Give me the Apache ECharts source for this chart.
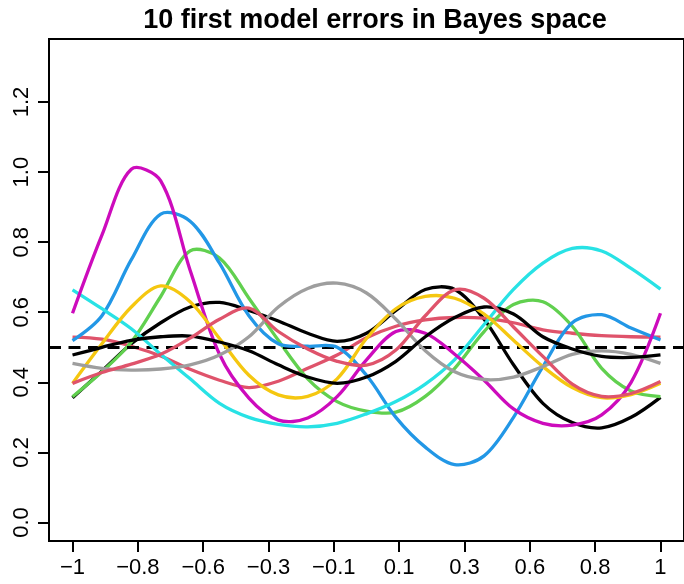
<!DOCTYPE html>
<html lang="en">
<head>
    <meta charset="utf-8">
    <title>Bayes space errors</title>
    <script src="https://cdn.jsdelivr.net/npm/echarts@6/dist/echarts.min.js"></script>
    <style>
        body { margin: 0; background: #fff; }
        #main { width: 684px; height: 584px; }
    </style>
</head>
<body>
    <div id="main"></div>
    <script type="text/javascript">
        // x grid of the evaluated curves
        var xs = [-1, -0.9, -0.8, -0.7, -0.6, -0.5, -0.4, -0.3, -0.2, -0.1, 0,
                  0.1, 0.2, 0.3, 0.4, 0.5, 0.6, 0.7, 0.8, 0.9, 1];

        // 10 model errors
        var err1  = [0.356, 0.432, 0.51, 0.57, 0.615, 0.628, 0.605, 0.575, 0.54, 0.517, 0.54, 0.605, 0.665, 0.665, 0.58, 0.45, 0.34, 0.285, 0.27, 0.30, 0.357];
        var err2  = [0.529, 0.523, 0.503, 0.475, 0.437, 0.406, 0.385, 0.403, 0.44, 0.478, 0.527, 0.56, 0.578, 0.585, 0.583, 0.57, 0.55, 0.54, 0.533, 0.53, 0.529];
        var err3  = [0.359, 0.43, 0.515, 0.645, 0.775, 0.755, 0.64, 0.52, 0.41, 0.345, 0.318, 0.315, 0.36, 0.44, 0.545, 0.622, 0.63, 0.56, 0.44, 0.375, 0.359];
        var err4  = [0.519, 0.59, 0.75, 0.88, 0.86, 0.74, 0.59, 0.51, 0.503, 0.50, 0.42, 0.30, 0.215, 0.165, 0.19, 0.30, 0.445, 0.57, 0.593, 0.555, 0.521];
        var err5  = [0.664, 0.61, 0.553, 0.48, 0.41, 0.34, 0.30, 0.28, 0.273, 0.283, 0.31, 0.345, 0.395, 0.465, 0.565, 0.665, 0.74, 0.782, 0.775, 0.725, 0.666];
        var err6  = [0.597, 0.82, 1.008, 0.975, 0.72, 0.48, 0.355, 0.292, 0.298, 0.359, 0.464, 0.545, 0.54, 0.48, 0.406, 0.324, 0.283, 0.278, 0.307, 0.40, 0.597];
        var err7  = [0.397, 0.51, 0.615, 0.675, 0.63, 0.525, 0.42, 0.364, 0.36, 0.41, 0.525, 0.61, 0.645, 0.64, 0.595, 0.52, 0.445, 0.385, 0.356, 0.365, 0.397];
        var err8  = [0.454, 0.44, 0.435, 0.438, 0.45, 0.478, 0.53, 0.615, 0.668, 0.683, 0.655, 0.58, 0.49, 0.43, 0.408, 0.415, 0.445, 0.48, 0.49, 0.48, 0.454];
        var err9  = [0.478, 0.50, 0.52, 0.53, 0.532, 0.515, 0.49, 0.45, 0.415, 0.397, 0.415, 0.46, 0.53, 0.585, 0.615, 0.595, 0.53, 0.495, 0.474, 0.471, 0.478];
        var err10 = [0.397, 0.428, 0.452, 0.48, 0.526, 0.58, 0.612, 0.545, 0.495, 0.46, 0.449, 0.492, 0.59, 0.664, 0.64, 0.558, 0.474, 0.395, 0.36, 0.368, 0.402];

        var errors = [err1, err2, err3, err4, err5, err6, err7, err8, err9, err10];
        // R default palette, recycled
        var palette = ['#000000', '#DF536B', '#61D04F', '#2297E6', '#28E2E5',
                       '#CD0BBC', '#F5C710', '#9E9E9E'];

        var xTicks = [-1, -7/9, -5/9, -3/9, -1/9, 1/9, 3/9, 5/9, 7/9, 1];
        var yTicks = [0, 0.2, 0.4, 0.6, 0.8, 1.0, 1.2];
        var refLevel = 0.5;

        var font = 'Liberation Sans, Arial, sans-serif';

        // each curve: one custom series, drawn as a smoothed polyline through its points
        var series = errors.map(function (ys, i) {
            var color = palette[i % palette.length];
            return {
                type: 'custom',
                silent: true,
                z: 2 + i,
                data: xs.map(function (x, j) { return [x, ys[j]]; }),
                renderItem: function (params, api) {
                    if (params.dataIndex !== 0) return;
                    var pts = xs.map(function (x, j) { return api.coord([x, ys[j]]); });
                    return {
                        type: 'polyline',
                        shape: { points: pts, smooth: 0.33 },
                        style: { stroke: color, lineWidth: 3.3, fill: null, lineJoin: 'round' }
                    };
                }
            };
        });
        // dashed reference line
        series.push({
            type: 'line',
            data: [],
            z: 20,
            markLine: {
                silent: true,
                symbol: 'none',
                label: { show: false },
                lineStyle: { color: '#000', width: 3.2, type: [12, 7.5] },
                data: [{ yAxis: refLevel }]
            }
        });

        var myChart = echarts.init(document.getElementById('main'));
        myChart.setOption({
            animation: false,
            title: {
                text: '10 first model errors in Bayes space',
                left: 370,
                textAlign: 'center',
                top: 2,
                textStyle: { fontFamily: font, fontSize: 27, fontWeight: 'bold', color: '#000' }
            },
            grid: {
                left: 49, right: -9, top: 39, bottom: 43,
                show: true, borderColor: '#000', borderWidth: 2
            },
            xAxis: {
                type: 'value',
                min: -1.08, max: 1.08,
                axisLine: { show: false, onZero: false },
                splitLine: { show: false },
                axisTick: {
                    show: true, length: 11, customValues: xTicks,
                    lineStyle: { color: '#000', width: 2 }
                },
                axisLabel: {
                    customValues: xTicks,
                    margin: 16,
                    fontFamily: font, fontSize: 22, color: '#000',
                    formatter: function (v) {
                        var s = String(Math.round(v * 10) / 10);
                        return s.replace('-', '\u2212');
                    }
                }
            },
            yAxis: {
                type: 'value',
                min: -0.053, max: 1.38,
                axisLine: { show: false, onZero: false },
                splitLine: { show: false },
                axisTick: {
                    show: true, length: 11, customValues: yTicks,
                    lineStyle: { color: '#000', width: 2 }
                },
                axisLabel: {
                    customValues: yTicks,
                    rotate: 90,
                    margin: 16,
                    fontFamily: font, fontSize: 22, color: '#000',
                    formatter: function (v) { return v.toFixed(1); }
                }
            },
            series: series
        });
    </script>
</body>
</html>
